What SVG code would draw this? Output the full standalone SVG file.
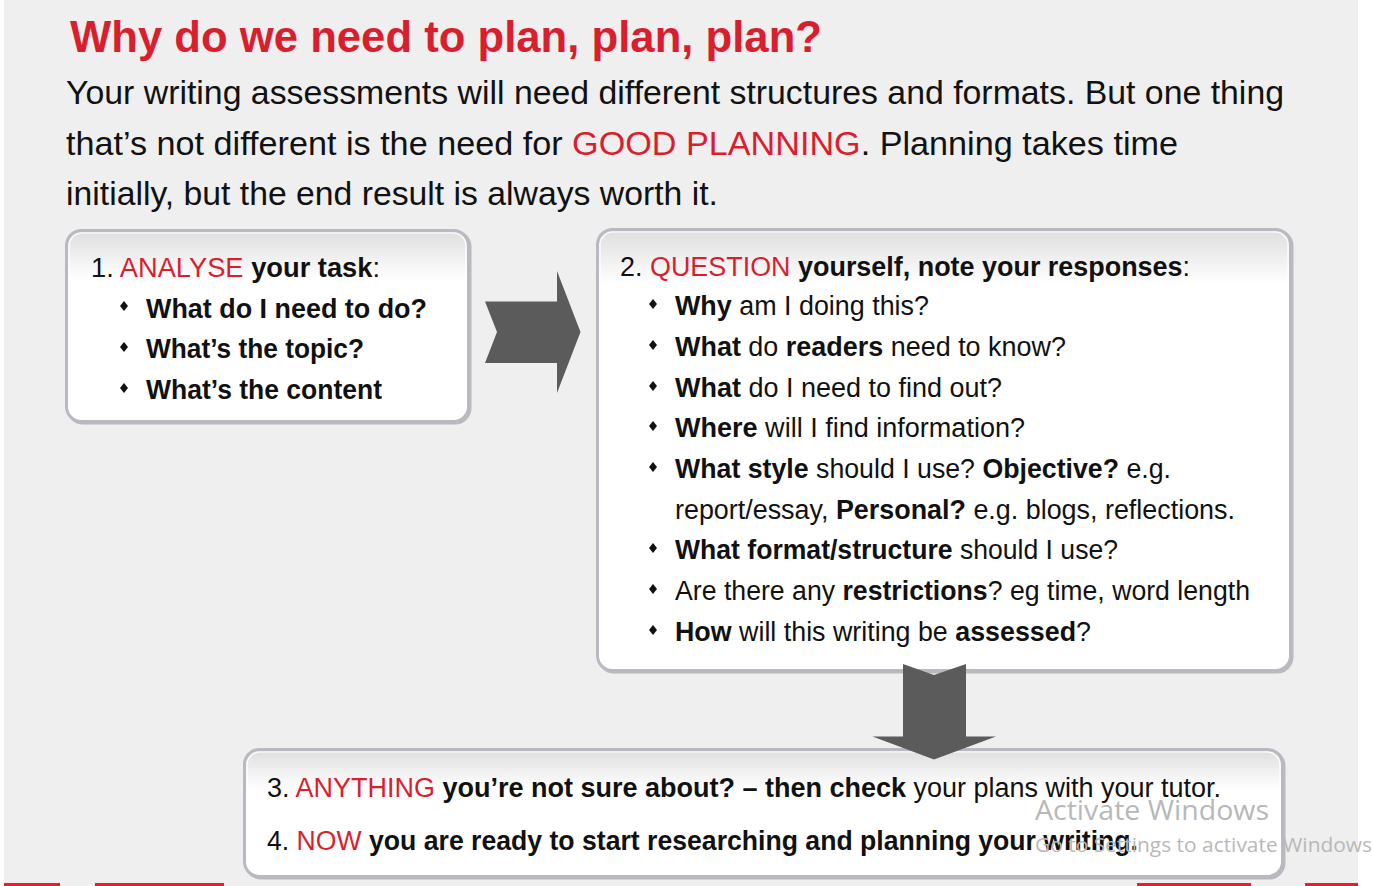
<svg xmlns="http://www.w3.org/2000/svg" width="1373" height="886" viewBox="0 0 1373 886">
  <style>
    .sans { font-family: "Liberation Sans", Arial, sans-serif; }
    .title { font-size: 44px; font-weight: bold; fill: #d91f2e; }
    .para { font-size: 33.6px; fill: #111; }
    .item { font-size: 27px; fill: #111; }
    .b { font-weight: bold; }
    .red { fill: #d91f2e; }
    .frame { fill: none; stroke: #b9b9c2; stroke-width: 3; }
    .shade { fill: none; stroke: #8e8e96; stroke-width: 3; opacity: 0.55; }
    .inner { fill: none; stroke: #ffffff; stroke-width: 1.2; }
    .arrow { fill: #5b5b5b; }
    .wm { font-family: "Open Sans", "Noto Sans", sans-serif; fill: #b8b8b8; }
  </style>
  <defs>
    <linearGradient id="g1" gradientUnits="userSpaceOnUse" x1="0" y1="230" x2="0" y2="280">
      <stop offset="0" stop-color="#dedede"/>
      <stop offset="1" stop-color="#ffffff"/>
    </linearGradient>
    <linearGradient id="g2" gradientUnits="userSpaceOnUse" x1="0" y1="229" x2="0" y2="285">
      <stop offset="0" stop-color="#dedede"/>
      <stop offset="1" stop-color="#ffffff"/>
    </linearGradient>
    <linearGradient id="g3" gradientUnits="userSpaceOnUse" x1="0" y1="749" x2="0" y2="790">
      <stop offset="0" stop-color="#dedede"/>
      <stop offset="1" stop-color="#ffffff"/>
    </linearGradient>
    <path id="dot" d="M0,-5 L4,0 L0,5 L-4,0 Z" fill="#111"/>
  </defs>

  <!-- page -->
  <rect x="0" y="0" width="1373" height="886" fill="#ffffff"/>
  <rect x="4" y="0" width="1354" height="886" fill="#efefef"/>
  <g id="footer-bars" fill="#ee1c24">
    <rect x="4" y="883" width="56" height="3"/>
    <rect x="95" y="883" width="129" height="3"/>
    <rect x="1137" y="883" width="114" height="3"/>
    <rect x="1305" y="883" width="53" height="3"/>
  </g>

  <!-- heading and intro -->
  <g id="heading" class="sans">
    <text class="title" x="70" y="52" textLength="752" lengthAdjust="spacingAndGlyphs">Why do we need to plan, plan, plan?</text>
    <text class="para" x="66" y="104" textLength="1218" lengthAdjust="spacingAndGlyphs">Your writing assessments will need different structures and formats. But one thing</text>
    <text class="para" x="66" y="155" textLength="1112" lengthAdjust="spacingAndGlyphs">that’s not different is the need for <tspan class="red">GOOD PLANNING</tspan>. Planning takes time</text>
    <text class="para" x="66" y="205" textLength="652" lengthAdjust="spacingAndGlyphs">initially, but the end result is always worth it.</text>
  </g>

  <!-- step 1 -->
  <g id="analyse" class="sans">
    <rect class="shade" x="68" y="232" width="402" height="191" rx="15"/>
    <rect x="66.5" y="230.5" width="402" height="191" rx="15" fill="url(#g1)"/>
    <rect class="frame" x="66.5" y="230.5" width="402" height="191" rx="15"/>
    <rect class="inner" x="69" y="233" width="397" height="186" rx="13"/>
    <text class="item" x="91" y="277" textLength="289" lengthAdjust="spacingAndGlyphs">1. <tspan class="red">ANALYSE</tspan> <tspan class="b">your task</tspan>:</text>
    <use href="#dot" x="124" y="306"/>
    <text class="item b" x="146" y="318" textLength="281" lengthAdjust="spacingAndGlyphs">What do I need to do?</text>
    <use href="#dot" x="124" y="347"/>
    <text class="item b" x="146" y="358" textLength="218" lengthAdjust="spacingAndGlyphs">What’s the topic?</text>
    <use href="#dot" x="124" y="388"/>
    <text class="item b" x="146" y="399" textLength="236" lengthAdjust="spacingAndGlyphs">What’s the content</text>
  </g>

  <!-- step 2 -->
  <g id="question" class="sans">
    <rect class="shade" x="599" y="231" width="693" height="441" rx="15"/>
    <rect x="597.5" y="229.5" width="693" height="441" rx="15" fill="url(#g2)"/>
    <rect class="frame" x="597.5" y="229.5" width="693" height="441" rx="15"/>
    <rect class="inner" x="600" y="232" width="688" height="436" rx="13"/>
    <text class="item" x="620" y="276" textLength="570" lengthAdjust="spacingAndGlyphs">2. <tspan class="red">QUESTION</tspan> <tspan class="b">yourself, note your responses</tspan>:</text>
    <use href="#dot" x="653" y="304"/>
    <text class="item" x="675" y="315" textLength="254" lengthAdjust="spacingAndGlyphs"><tspan class="b">Why</tspan> am I doing this?</text>
    <use href="#dot" x="653" y="345"/>
    <text class="item" x="675" y="356" textLength="391" lengthAdjust="spacingAndGlyphs"><tspan class="b">What</tspan> do <tspan class="b">readers</tspan> need to know?</text>
    <use href="#dot" x="653" y="386"/>
    <text class="item" x="675" y="397" textLength="327" lengthAdjust="spacingAndGlyphs"><tspan class="b">What</tspan> do I need to find out?</text>
    <use href="#dot" x="653" y="426"/>
    <text class="item" x="675" y="437" textLength="350" lengthAdjust="spacingAndGlyphs"><tspan class="b">Where</tspan> will I find information?</text>
    <use href="#dot" x="653" y="467"/>
    <text class="item" x="675" y="478" textLength="496" lengthAdjust="spacingAndGlyphs"><tspan class="b">What style</tspan> should I use? <tspan class="b">Objective?</tspan> e.g.</text>
    <text class="item" x="675" y="519" textLength="560" lengthAdjust="spacingAndGlyphs">report/essay, <tspan class="b">Personal?</tspan> e.g. blogs, reflections.</text>
    <use href="#dot" x="653" y="548"/>
    <text class="item" x="675" y="559" textLength="443" lengthAdjust="spacingAndGlyphs"><tspan class="b">What format/structure</tspan> should I use?</text>
    <use href="#dot" x="653" y="589"/>
    <text class="item" x="675" y="600" textLength="575" lengthAdjust="spacingAndGlyphs">Are there any <tspan class="b">restrictions</tspan>? eg time, word length</text>
    <use href="#dot" x="653" y="630"/>
    <text class="item" x="675" y="641" textLength="416" lengthAdjust="spacingAndGlyphs"><tspan class="b">How</tspan> will this writing be <tspan class="b">assessed</tspan>?</text>
  </g>

  <!-- steps 3 and 4 -->
  <g id="check" class="sans">
    <rect class="shade" x="246" y="751" width="1038" height="127" rx="15"/>
    <rect x="244.5" y="749.5" width="1038" height="127" rx="15" fill="url(#g3)"/>
    <rect class="frame" x="244.5" y="749.5" width="1038" height="127" rx="15"/>
    <rect class="inner" x="247" y="752" width="1033" height="122" rx="13"/>
    <text class="item" x="267" y="797" textLength="954" lengthAdjust="spacingAndGlyphs">3. <tspan class="red">ANYTHING</tspan> <tspan class="b">you’re not sure about? – then check</tspan> your plans with your tutor.</text>
    <text class="item" x="267" y="850" textLength="871" lengthAdjust="spacingAndGlyphs">4. <tspan class="red">NOW</tspan> <tspan class="b">you are ready to start researching and planning your writing.</tspan></text>
  </g>

  <!-- connectors -->
  <g id="connectors">
    <polygon class="arrow" points="485,301.5 497,332 485,363 557,363 557,393 580.5,332 557,271 557,301.5"/>
    <polygon class="arrow" points="903,664 934,675 966,664 966,736.5 996,736.5 934,759.5 872.5,736.5 903,736.5"/>
  </g>

  <!-- system overlay text -->
  <g id="overlay">
    <text class="wm" x="1035" y="820" font-size="28" textLength="234" lengthAdjust="spacingAndGlyphs">Activate Windows</text>
    <text class="wm" x="1035" y="852" font-size="20" textLength="337" lengthAdjust="spacingAndGlyphs">Go to Settings to activate Windows</text>
  </g>
</svg>
